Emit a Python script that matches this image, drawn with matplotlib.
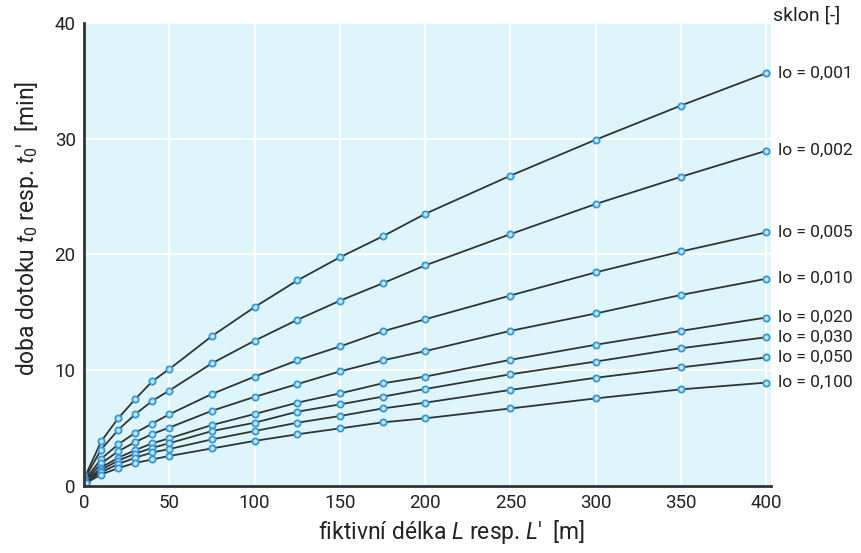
import matplotlib
matplotlib.use("Agg")
import matplotlib.pyplot as plt

plt.rcParams['font.family'] = ['Roboto', 'DejaVu Sans']
plt.rcParams['mathtext.fontset'] = 'custom'
plt.rcParams['mathtext.rm'] = 'Roboto'
plt.rcParams['mathtext.it'] = 'Roboto:italic'

# fiktivni delka L [m]
delka = [0, 1, 10, 20, 30, 40, 50, 75, 100, 125, 150, 175, 200, 250, 300, 350, 400]

# doba dotoku t0 [min] for each slope
sklony = ["0,001", "0,002", "0,005", "0,010", "0,020", "0,030", "0,050", "0,100"]
t_0001 = [0, 0.95, 3.85, 5.85, 7.5, 9.05, 10.1, 12.95, 15.45, 17.75, 19.75, 21.55, 23.5, 26.8, 29.9, 32.85, 35.65]
t_0002 = [0, 0.8, 3.15, 4.85, 6.2, 7.35, 8.25, 10.6, 12.55, 14.35, 16.0, 17.5, 19.05, 21.75, 24.35, 26.7, 28.95]
t_0005 = [0, 0.6, 2.35, 3.6, 4.6, 5.4, 6.2, 7.95, 9.45, 10.85, 12.05, 13.35, 14.4, 16.45, 18.45, 20.25, 21.9]
t_0010 = [0, 0.5, 1.95, 3.0, 3.8, 4.5, 5.05, 6.5, 7.7, 8.8, 9.9, 10.85, 11.65, 13.4, 14.9, 16.5, 17.9]
t_0020 = [0, 0.4, 1.6, 2.45, 3.1, 3.7, 4.12, 5.27, 6.22, 7.2, 8.0, 8.87, 9.45, 10.9, 12.2, 13.4, 14.55]
t_0030 = [0, 0.35, 1.4, 2.2, 2.8, 3.3, 3.7, 4.75, 5.47, 6.42, 7.05, 7.72, 8.38, 9.65, 10.75, 11.9, 12.85]
t_0050 = [0, 0.3, 1.2, 1.9, 2.45, 2.9, 3.2, 4.03, 4.75, 5.47, 6.05, 6.7, 7.2, 8.3, 9.35, 10.25, 11.1]
t_0100 = [0, 0.25, 1.0, 1.55, 2.0, 2.3, 2.6, 3.25, 3.9, 4.47, 4.98, 5.5, 5.85, 6.7, 7.57, 8.35, 8.93]
krivky = [t_0001, t_0002, t_0005, t_0010, t_0020, t_0030, t_0050, t_0100]

fig = plt.figure(figsize=(8.62, 5.53), dpi=100)
ax = fig.add_axes([0.0975, 0.121, 0.7975, 0.838])
ax.set_facecolor('#def6fb')

for t, s in zip(krivky, sklony):
    ax.plot(delka, t, color='#2f3434', lw=1.3, zorder=3,
            marker='o', ms=4.5, mfc='#bfe6f7', mec='#3597d6', mew=1.3)
    ax.text(407, t[-1], "lo = " + s, fontsize=12.5, va='center', ha='left',
            color='#222222', clip_on=False)

ax.text(404, 40.6, "sklon [-]", fontsize=14, va='center', ha='left', color='#222222')

ax.set_xlim(0, 403)
ax.set_ylim(0, 40)
ax.set_xticks(range(0, 401, 50))
ax.set_yticks(range(0, 41, 10))
ax.grid(True, color='white', lw=1.5, zorder=1)
ax.set_axisbelow(True)
ax.tick_params(length=0, labelsize=13.5, colors='#222222', pad=6)

for side in ['top', 'right']:
    ax.spines[side].set_visible(False)
for side in ['left', 'bottom']:
    ax.spines[side].set_linewidth(2)
    ax.spines[side].set_color('#333333')
    ax.spines[side].set_zorder(4)

ax.set_xlabel(r"fiktivní délka $\mathit{L}$ resp. $\mathit{L}$'  [m]", fontsize=16.5,
              color='#222222')
ax.set_ylabel(r"doba dotoku $\mathit{t_0}$ resp. $\mathit{t_0}$'  [min]", fontsize=16.5,
              color='#222222')
ax.xaxis.set_label_coords(0.535, -0.068)
ax.yaxis.set_label_coords(-0.083, 0.555)
ax.yaxis.label.set_va('center')

fig.savefig('out.png', dpi=100)
